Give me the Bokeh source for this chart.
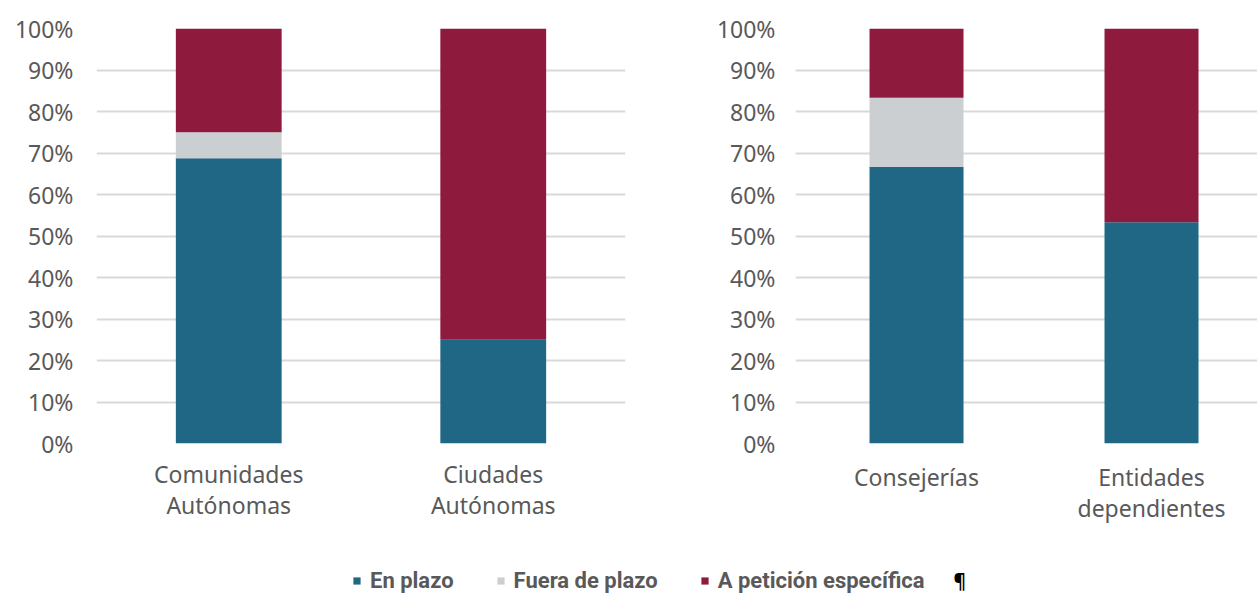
from bokeh.plotting import figure
from bokeh.layouts import column, row
from bokeh.models import Range1d, FixedTicker, NumeralTickFormatter, Legend, LegendItem, Label
from bokeh.embed import file_html
from bokeh.resources import INLINE

# ---- data ----
series = ["En plazo", "Fuera de plazo", "A petición específica"]
colors = ["#1F6785", "#CBCFD2", "#8E1B3E"]

grupos_izq = ["Comunidades\nAutónomas", "Ciudades\nAutónomas"]
en_plazo_izq = [0.6875, 0.25]
fuera_izq = [0.0625, 0.0]
peticion_izq = [0.25, 0.75]

grupos_der = ["Consejerías", "Entidades\ndependientes"]
en_plazo_der = [0.6667, 0.5333]
fuera_der = [0.1667, 0.0]
peticion_der = [0.1666, 0.4667]

y_ticks = [0.0, 0.1, 0.2, 0.3, 0.4, 0.5, 0.6, 0.7, 0.8, 0.9, 1.0]

FONT = "Noto Sans"
TXT = "#595959"
GRID = "#D9D9D9"


def make_chart(grupos, a, b, c, width, height, x_range, mb_left, mb_right, mb_top, mb_bottom,
               y_standoff, x_standoff):
    p = figure(width=width, height=height, x_range=x_range, y_range=Range1d(0, 1),
               output_backend="svg", toolbar_location=None,
               min_border_left=mb_left, min_border_right=mb_right,
               min_border_top=mb_top, min_border_bottom=mb_bottom)
    xs = list(range(len(grupos)))
    data = dict(x=xs, a=a, b=b, c=c)
    p.vbar_stack(["a", "b", "c"], x="x", width=0.4, source=data,
                 fill_color=colors, line_color=None)
    p.outline_line_color = None
    p.background_fill_color = "white"
    p.border_fill_color = "white"
    p.xgrid.grid_line_color = None
    p.ygrid.grid_line_color = GRID
    p.ygrid.grid_line_width = 2
    p.ygrid.ticker = FixedTicker(ticks=y_ticks)
    p.yaxis.ticker = FixedTicker(ticks=y_ticks)
    p.yaxis.formatter = NumeralTickFormatter(format="0%")
    p.xaxis.ticker = FixedTicker(ticks=xs)
    p.xaxis.major_label_overrides = {i: g for i, g in enumerate(grupos)}
    for ax in (p.xaxis, p.yaxis):
        ax.axis_line_color = None
        ax.major_tick_line_color = None
        ax.minor_tick_line_color = None
        ax.major_tick_out = 0
        ax.major_tick_in = 0
        ax.major_label_text_font = FONT
        ax.major_label_text_font_size = "23px"
        ax.major_label_text_color = TXT
    p.yaxis.major_label_standoff = y_standoff
    p.xaxis.major_label_standoff = x_standoff
    p.xaxis.major_label_text_line_height = 0.97
    return p


H = 532
p1 = make_chart(grupos_izq, en_plazo_izq, fuera_izq, peticion_izq,
                width=700, height=H, x_range=Range1d(-0.5, 1.5),
                mb_left=96, mb_right=75, mb_top=27, mb_bottom=H - 443,
                y_standoff=23, x_standoff=14)
p2 = make_chart(grupos_der, en_plazo_der, fuera_der, peticion_der,
                width=557, height=H, x_range=Range1d(-0.515, 1.451),
                mb_left=95, mb_right=0, mb_top=28, mb_bottom=H - 445,
                y_standoff=20, x_standoff=17)

# ---- legend figure ----
p3 = figure(width=1257, height=594 - H, x_range=Range1d(0, 1), y_range=Range1d(0, 1),
            output_backend="svg", toolbar_location=None,
            min_border=0, min_border_left=0, min_border_right=0,
            min_border_top=0, min_border_bottom=0)
p3.axis.visible = False
p3.grid.visible = False
p3.outline_line_color = None
items = []
for name, col in zip(series, colors):
    # swatch-only renderer kept outside the visible range
    r = p3.vbar(x=[5], top=[5], bottom=[4], width=0.1, fill_color=col, line_color=None)
    items.append(LegendItem(label=name, renderers=[r]))
leg = Legend(items=items, orientation="horizontal", location=(352, 1),
             glyph_width=9, glyph_height=9, label_standoff=9, spacing=42,
             padding=0, margin=0, border_line_color=None, background_fill_alpha=0,
             label_text_font="Roboto", label_text_font_size="22px",
             label_text_font_style="bold", label_text_color=TXT)
p3.add_layout(leg, "center")
p3.add_layout(Label(x=953, y=1, x_units="screen", y_units="screen", text="¶",
                    text_font=FONT, text_font_size="19px", text_font_style="bold",
                    text_color="#000000", text_baseline="bottom"))

layout = column(row(p1, p2), p3)
open("out.html", "w").write(file_html(layout, INLINE))
